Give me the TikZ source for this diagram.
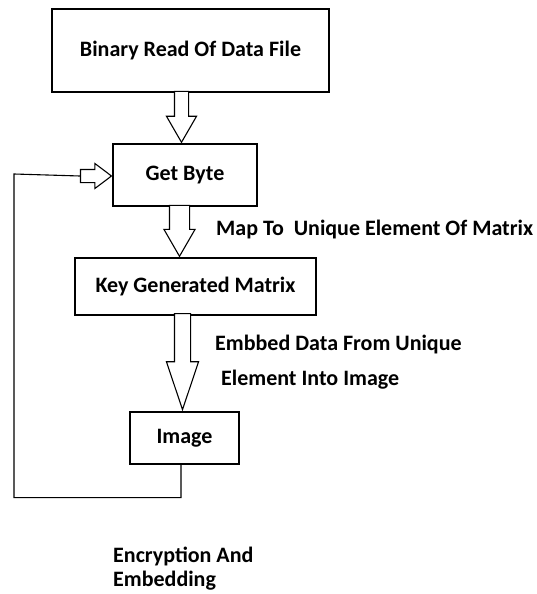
\documentclass[tikz,border=0pt]{standalone}
\usepackage{fontspec}
\setmainfont{Carlito}
\usepackage{tikz}
\usetikzlibrary{shapes,arrows}
\tikzstyle{block}=[rectangle, draw, line width=1.2pt, inner sep=0pt,
        font=\fontsize{22}{26}\selectfont\bfseries]
\tikzstyle{bigarrow}=[single arrow, draw, line width=1.1pt, fill=white,
        inner ysep=0pt, shape border rotate=270, anchor=tip]
\tikzstyle{note}=[inner sep=0pt, anchor=west,
        font=\fontsize{22}{26}\selectfont\bfseries]

\begin{document}
\begin{tikzpicture}[x=1pt, y=-1pt]
      \useasboundingbox (0,0) rectangle (536,594);
      % Place nodes
      \node [block, minimum width=277pt, minimum height=83pt] (read) at (190.5,50.5) {Binary Read Of Data File};
      \node [block, minimum width=144pt, minimum height=62pt] (byte) at (185,175) {Get Byte};
      \node [block, minimum width=241pt, minimum height=57pt] (matrix) at (195.5,286.5) {Key Generated Matrix};
      \node [block, minimum width=109pt, minimum height=52pt] (image) at (184.5,438) {Image};
      % Hollow arrows
      \node [bigarrow, minimum height=51pt, inner xsep=6.5pt, single arrow head extend=8pt,
             single arrow tip angle=60] (toread) at ([xshift=-3.5pt]byte.north) {};
      \node [bigarrow, minimum height=51pt, inner xsep=9.5pt, single arrow head extend=5.5pt,
             single arrow tip angle=60] (tomap) at ([xshift=-16pt]matrix.north) {};
      \node [bigarrow, minimum height=96pt, inner xsep=7.5pt, single arrow head extend=8pt,
             single arrow tip angle=37] (toembed) at ([xshift=-2pt]image.north) {};
      \node [bigarrow, shape border rotate=0, minimum height=31pt, inner xsep=0pt, inner ysep=6pt,
             single arrow head extend=6pt, single arrow tip angle=74] (loop) at ([yshift=-1pt]byte.west) {};
      % Labels
      \node [note] (maptext) at (216,230) {Map To\ \ Unique Element Of Matrix};
      \node [note] (embtext) at (215,345) {Embbed Data From Unique};
      \node [note] (embtext2) at (221,380) {Element Into Image};
      \node [note] (capone) at (113,556) {Encryption And};
      \node [note] (captwo) at (113,581) {Embedding};
      % Draw edges
      \draw [line width=1.1pt] ([xshift=-3.5pt]image.south) -- ++(0,33) -| (14,174) -- (loop.tail);
\end{tikzpicture}
\end{document}
